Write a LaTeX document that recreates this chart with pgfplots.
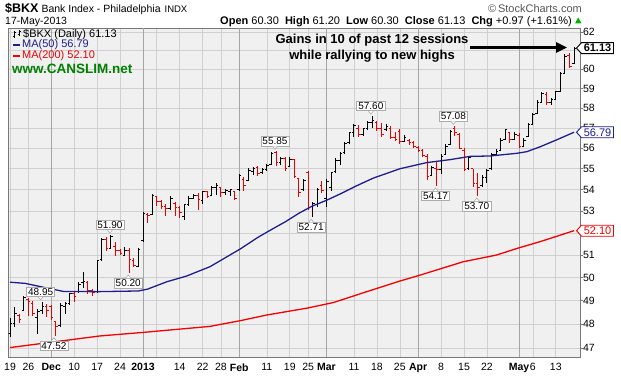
\documentclass[border=0pt]{standalone}
\usepackage{fontspec}
\setmainfont{Liberation Sans}
\usepackage{pgfplots}
\pgfplotsset{compat=1.18}
\usepackage{pgfplotstable}
\usetikzlibrary{calc,arrows.meta}
\newcommand{\fs}[1]{\fontsize{#1}{#1}\selectfont}
\definecolor{plotbg}{RGB}{240,240,240}
\definecolor{gridc}{RGB}{208,208,208}
\definecolor{monthgrid}{RGB}{165,165,165}
\definecolor{framec}{RGB}{120,120,120}
\definecolor{dnc}{RGB}{235,0,0}
\definecolor{maA}{RGB}{30,30,140}
\definecolor{maB}{RGB}{240,0,0}
\definecolor{cgreen}{RGB}{0,128,0}
\definecolor{sc}{RGB}{85,85,85}

% black bars: close above previous close
\pgfplotstableread{
i o h l c
0 47.60 48.25 47.45 48.05
1 48.05 48.75 47.90 48.45
3 48.60 49.20 48.55 49.15
6 48.30 48.65 47.60 48.55
7 48.60 48.95 48.45 48.75
11 47.95 48.90 47.90 48.80
12 48.75 48.95 48.45 48.90
13 48.90 49.35 48.80 49.30
15 49.40 49.80 49.35 49.70
16 49.80 50.25 49.55 49.85
19 49.40 50.80 49.35 50.75
20 50.80 51.75 50.75 51.70
22 51.30 51.90 51.25 51.85
25 51.00 51.35 50.95 51.20
28 50.50 51.30 50.45 51.25
29 51.65 52.95 51.60 52.90
31 52.85 53.80 52.80 53.75
35 53.10 53.70 53.05 53.60
38 52.75 53.35 52.60 53.30
39 53.30 53.70 53.25 53.60
40 53.60 53.80 53.55 53.75
42 53.50 53.95 53.35 53.90
44 53.75 54.20 53.75 54.10
45 54.10 54.30 53.75 54.20
47 53.85 54.05 53.75 53.95
48 53.90 54.05 53.70 54.00
50 54.00 54.75 53.95 54.70
52 54.45 55.05 54.40 54.90
53 54.85 55.10 54.70 55.00
55 54.80 55.05 54.75 54.95
56 54.95 55.25 54.90 55.15
57 55.20 55.80 55.20 55.75
59 55.30 55.55 55.20 55.50
61 55.10 55.55 55.10 55.45
64 54.00 54.50 53.95 54.45
66 53.20 53.40 52.71 53.35
67 53.30 54.10 53.20 54.00
69 53.60 54.50 53.20 54.40
70 54.10 54.85 53.95 54.80
71 54.85 55.50 54.80 55.40
72 55.40 55.80 55.20 55.75
73 55.80 56.30 55.70 56.25
74 56.30 56.80 56.20 56.75
75 56.75 57.20 56.55 57.10
77 56.70 57.00 56.60 56.95
78 56.95 57.35 56.90 57.30
79 57.30 57.60 57.00 57.40
82 56.90 57.20 56.85 57.05
86 56.35 56.65 56.30 56.55
92 54.70 55.15 54.65 55.05
94 54.95 55.70 54.75 55.60
95 55.70 56.20 55.65 56.10
96 56.20 56.90 56.15 56.80
100 55.00 55.60 54.95 55.55
103 54.20 54.70 54.15 54.60
104 54.60 55.00 54.30 54.90
105 55.00 55.75 54.95 55.70
106 55.70 55.95 55.60 55.85
107 55.90 56.50 55.85 56.40
108 56.45 56.95 56.40 56.90
110 56.45 56.80 56.40 56.70
112 56.10 56.50 56.05 56.40
113 56.60 57.25 56.55 57.20
114 57.20 57.75 57.15 57.70
115 57.75 58.40 57.70 58.30
116 58.30 58.80 58.25 58.75
118 58.30 58.50 58.15 58.45
119 58.45 58.90 58.40 58.85
120 58.85 59.85 58.80 59.80
121 59.80 60.80 59.75 60.70
123 60.30 61.20 60.30 61.13
}\upbars

% red bars: close below previous close
\pgfplotstableread{
i o h l c
2 48.35 48.45 48.05 48.20
4 49.05 49.10 48.35 48.95
5 48.90 49.00 48.35 48.45
8 48.75 48.85 48.30 48.60
9 48.75 48.80 48.20 48.30
10 48.10 48.15 47.52 47.90
14 49.30 49.40 48.95 49.20
17 49.80 49.85 49.30 49.45
18 49.45 49.50 49.20 49.35
21 51.70 51.80 51.20 51.30
23 51.40 51.60 50.95 51.20
24 51.20 51.25 51.00 51.05
26 51.20 51.30 50.20 50.80
27 50.75 50.85 50.45 50.55
30 52.85 52.90 52.45 52.80
32 53.70 53.70 53.25 53.45
33 53.45 53.50 53.10 53.20
34 53.20 53.35 52.75 53.10
36 53.35 53.40 52.75 53.15
37 53.15 53.25 52.70 52.95
41 53.75 53.85 53.05 53.55
43 53.90 53.95 53.60 53.70
46 54.10 54.15 53.65 53.85
49 53.90 53.90 53.50 53.60
51 54.50 54.60 53.95 54.20
54 55.05 55.15 54.65 54.75
58 55.80 55.85 55.15 55.30
60 55.50 55.55 54.90 55.00
62 55.45 55.45 54.55 54.65
63 54.55 54.55 53.65 53.85
65 54.80 54.90 53.05 53.15
68 54.20 54.40 53.85 53.95
76 57.00 57.15 56.55 56.70
80 57.30 57.35 56.85 57.00
81 57.00 57.25 56.55 56.70
83 57.00 57.10 56.45 56.55
84 56.55 56.80 56.35 56.45
85 56.80 56.95 56.20 56.35
87 56.40 56.45 56.15 56.30
88 56.30 56.35 56.00 56.10
89 56.05 56.10 55.80 55.90
90 55.90 55.95 55.55 55.65
91 55.60 55.70 54.45 54.65
93 55.00 55.35 54.17 54.95
97 57.00 57.08 56.60 56.75
98 56.70 56.75 55.95 56.00
99 55.90 56.00 54.90 54.95
101 55.00 55.00 54.15 54.30
102 54.30 54.80 53.70 54.10
109 56.75 56.80 56.25 56.45
111 56.65 56.75 56.00 56.10
117 58.70 58.80 58.15 58.30
122 60.75 60.85 60.05 60.16
}\dnbars

\tikzset{
  vbox/.style={draw=gray!65, fill=white, line width=0.6bp, inner xsep=1.5bp, inner ysep=1.2bp, font=\fs{10bp}, text=black},
  vptr/.style={draw=gray!65, fill=white, line width=0.6bp}
}

\begin{document}
\begin{tikzpicture}[x=1bp,y=1bp]
\useasboundingbox (0,0) rectangle (621,375);
\begin{axis}[
  at={(8.5bp,18bp)}, anchor=south west,
  scale only axis, width=571.5bp, height=329bp,
  xmin=-0.33, xmax=124.29,
  ymode=log, ymin=46.646, ymax=62.2175,
  axis background/.style={fill=plotbg},
  axis line style={draw=framec, line width=0.8bp},
  xtick={0,4,14,19,24,32,37,42,46,56,61,65,75,80,85,94,99,104,114,119},
  xticklabels={19,26,10,17,24,{},14,22,28,11,19,25,11,18,25,8,15,22,6,13},
  extra x ticks={9,29,50,69,89,111},
  extra x tick labels={Dec,2013,Feb,Mar,Apr,May},
  extra x tick style={grid=major, major grid style={draw=monthgrid, line width=0.8bp}, tick label style={font=\fs{10.5bp}\bfseries}},
  ytick={47,48,49,50,51,52,53,54,55,56,57,58,59,60,61,62},
  yticklabels={47,48,49,50,51,{},53,54,55,56,57,58,59,60,{},62},
  xtick pos=bottom, ytick pos=right, yticklabel pos=right,
  tick align=outside,
  xtick style={draw=none},
  ytick style={draw=framec, line width=0.6bp},
  major tick length=3bp,
  grid=major, grid style={draw=gridc, line width=0.6bp},
  tick label style={font=\fs{10.5bp}, text=black},
  yticklabel style={anchor=west, xshift=-3.5bp},
]
% ---- black (up) bars
\addplot[draw=none, mark=none, error bars/.cd, y dir=both, y explicit, error mark=none,
  error bar style={draw=black, line width=1bp}]
  table[x=i, y expr={(\thisrow{h}+\thisrow{l})/2}, y error expr={(\thisrow{h}-\thisrow{l})/2}] {\upbars};
\addplot[draw=none, mark=none, error bars/.cd, x dir=minus, x fixed=0.45, error mark=none,
  error bar style={draw=black, line width=1bp}]
  table[x=i, y=o] {\upbars};
\addplot[draw=none, mark=none, error bars/.cd, x dir=plus, x fixed=0.45, error mark=none,
  error bar style={draw=black, line width=1bp}]
  table[x=i, y=c] {\upbars};
% ---- red (down) bars
\addplot[draw=none, mark=none, error bars/.cd, y dir=both, y explicit, error mark=none,
  error bar style={draw=dnc, line width=1bp}]
  table[x=i, y expr={(\thisrow{h}+\thisrow{l})/2}, y error expr={(\thisrow{h}-\thisrow{l})/2}] {\dnbars};
\addplot[draw=none, mark=none, error bars/.cd, x dir=minus, x fixed=0.45, error mark=none,
  error bar style={draw=dnc, line width=1bp}]
  table[x=i, y=o] {\dnbars};
\addplot[draw=none, mark=none, error bars/.cd, x dir=plus, x fixed=0.45, error mark=none,
  error bar style={draw=dnc, line width=1bp}]
  table[x=i, y=c] {\dnbars};
% ---- MA(50)
\addplot[maA, line width=1.3bp, mark=none] coordinates {
(0,49.80) (3.3,49.75) (7.3,49.58) (11.6,49.40) (19,49.39) (28,49.42) (30,49.50)
(34.2,49.82) (38.5,50.07) (43.6,50.48) (50.2,51.27) (54.1,51.80) (57,52.15)
(60,52.50) (63,52.90) (65.8,53.22) (69,53.50) (72,53.80) (75.2,54.15) (79.2,54.55)
(85,55.00) (90.9,55.30) (95.9,55.44) (100.3,55.60) (104.7,55.62) (110.5,55.75)
(112.7,55.83) (115.6,56.07) (119.2,56.41) (123,56.79)};
% ---- MA(200)
\addplot[maB, line width=1.3bp, mark=none] coordinates {
(0,47.03) (7.3,47.21) (19.6,47.51) (29.1,47.66) (43.6,47.91) (50.2,48.15) (56,48.39)
(64.7,48.68) (70.5,48.92) (77.8,49.39) (85,49.85) (89.4,50.11) (98.8,50.70)
(106.1,51.00) (110.8,51.31) (115.6,51.60) (123,52.10)};
% ---- value annotations
\node[vbox, anchor=south, yshift=5bp, xshift=-1.5bp] (a1) at (axis cs:7,48.95) {48.95};
\draw[vptr] ([xshift=-2.5bp]a1.south) -- ([yshift=-3bp]a1.south) -- ([xshift=2.5bp]a1.south);
\node[vbox, anchor=south, yshift=5bp, xshift=-1bp] (a2) at (axis cs:22,51.90) {51.90};
\draw[vptr] ([xshift=-2.5bp]a2.south) -- ([yshift=-3bp]a2.south) -- ([xshift=2.5bp]a2.south);
\node[vbox, anchor=south, yshift=5bp, xshift=-1bp] (a3) at (axis cs:58,55.85) {55.85};
\draw[vptr] ([xshift=-2.5bp]a3.south) -- ([yshift=-3bp]a3.south) -- ([xshift=2.5bp]a3.south);
\node[vbox, anchor=south, yshift=5bp, xshift=-1.5bp] (a4) at (axis cs:79,57.60) {57.60};
\draw[vptr] ([xshift=-2.5bp]a4.south) -- ([yshift=-3bp]a4.south) -- ([xshift=2.5bp]a4.south);
\node[vbox, anchor=south, yshift=5bp, xshift=-1.5bp] (a5) at (axis cs:97,57.08) {57.08};
\draw[vptr] ([xshift=-2.5bp]a5.south) -- ([yshift=-3bp]a5.south) -- ([xshift=2.5bp]a5.south);
\node[vbox, anchor=north, yshift=-5bp, xshift=-2bp] (b1) at (axis cs:10,47.52) {47.52};
\draw[vptr] ([xshift=-2.5bp]b1.north) -- ([yshift=3bp]b1.north) -- ([xshift=2.5bp]b1.north);
\node[vbox, anchor=north, yshift=-5bp, xshift=-1bp] (b2) at (axis cs:26,50.20) {50.20};
\draw[vptr] ([xshift=-2.5bp]b2.north) -- ([yshift=3bp]b2.north) -- ([xshift=2.5bp]b2.north);
\node[vbox, anchor=north, yshift=-5bp, xshift=-1.5bp] (b3) at (axis cs:66,52.71) {52.71};
\draw[vptr] ([xshift=-2.5bp]b3.north) -- ([yshift=3bp]b3.north) -- ([xshift=2.5bp]b3.north);
\node[vbox, anchor=north, yshift=-5bp, xshift=-1bp] (b4) at (axis cs:93,54.17) {54.17};
\draw[vptr] ([xshift=-2.5bp]b4.north) -- ([yshift=3bp]b4.north) -- ([xshift=2.5bp]b4.north);
\node[vbox, anchor=north, yshift=-5bp, xshift=-1bp] (b5) at (axis cs:102,53.70) {53.70};
\draw[vptr] ([xshift=-2.5bp]b5.north) -- ([yshift=3bp]b5.north) -- ([xshift=2.5bp]b5.north);
% anchors for right-hand price boxes
\coordinate (pA) at (axis cs:124.29,61.13);
\coordinate (pB) at (axis cs:124.29,56.79);
\coordinate (pC) at (axis cs:124.29,52.10);
\end{axis}

% ---- right-hand price boxes
\draw[draw=black, line width=0.9bp, fill=white] ($(pA)+(-3.5,0)$) -- ++(5,5.5) -- ++(32,0) -- ++(0,-11) -- ++(-32,0) -- cycle;
\node[inner sep=0] at ($(pA)+(17.5,0)$) {\fs{11bp}\bfseries 61.13};
\draw[draw=maA, line width=0.9bp, fill=white] ($(pB)+(-3.5,0)$) -- ++(5,5.5) -- ++(32,0) -- ++(0,-11) -- ++(-32,0) -- cycle;
\node[inner sep=0, text=maA] at ($(pB)+(17.5,0)$) {\fs{11bp}56.79};
\draw[draw=maB, line width=0.9bp, fill=white] ($(pC)+(-3.5,0)$) -- ++(5,5.5) -- ++(32,0) -- ++(0,-11) -- ++(-32,0) -- cycle;
\node[inner sep=0, text=maB] at ($(pC)+(17.5,0)$) {\fs{11bp}52.10};

% ---- header
\node[anchor=base west, inner sep=0] at (5,363) {{\fs{12.5bp}\bfseries \$BKX}\hspace{3bp}{\fs{10.5bp}Bank Index - Philadelphia}\hspace{4bp}{\fs{9.5bp}INDX}};
\node[anchor=base east, inner sep=0, text=sc] at (582,363) {\fs{11bp}\textcopyright\,StockCharts.com};
\node[anchor=base west, inner sep=0] at (5,351) {\fs{10.5bp}17-May-2013};
\node[anchor=base east, inner sep=0] at (572,351) {\fs{11bp}\textbf{Open} 60.30\ \ \textbf{High} 61.20\ \ \textbf{Low} 60.30\ \ \textbf{Close} 61.13\ \ \textbf{Chg} +0.97 (+1.61\%)};
\fill[green!70!black] (575,351.5) -- (581.5,351.5) -- (578.25,357.5) -- cycle;

% ---- legend block
\draw[black, line width=0.8bp] (14.5,337.5) -- (14.5,344) (13,339) -- (14.5,339) (14.5,342.5) -- (16,342.5);
\draw[black, line width=0.8bp] (19,339) -- (19,345) (17.5,340.5) -- (19,340.5) (19,344) -- (20.5,344);
\node[anchor=west, inner sep=0] at (23,340.5) {\fs{11bp}\$BKX (Daily) 61.13};
\draw[maA, line width=1.6bp] (13,330) -- (20,330);
\node[anchor=west, inner sep=0, text=maA] at (22,330) {\fs{11bp}MA(50) 56.79};
\draw[maB, line width=1.6bp] (13,319) -- (20,319);
\node[anchor=west, inner sep=0, text=maB] at (22,319) {\fs{11bp}MA(200) 52.10};
\node[anchor=west, inner sep=0, text=cgreen] at (12,306.5) {\fs{13.5bp}\bfseries www.CANSLIM.net};

% ---- annotation
\node[align=center, inner sep=0, font=\fontsize{13bp}{16bp}\selectfont\bfseries] at (372,327) {Gains in 10 of past 12 sessions\\while rallying to new highs};
\draw[line width=2.5bp, -{Triangle[length=11bp,width=10bp]}] (470,327.5) -- (567,327.5);
\end{tikzpicture}
\end{document}
